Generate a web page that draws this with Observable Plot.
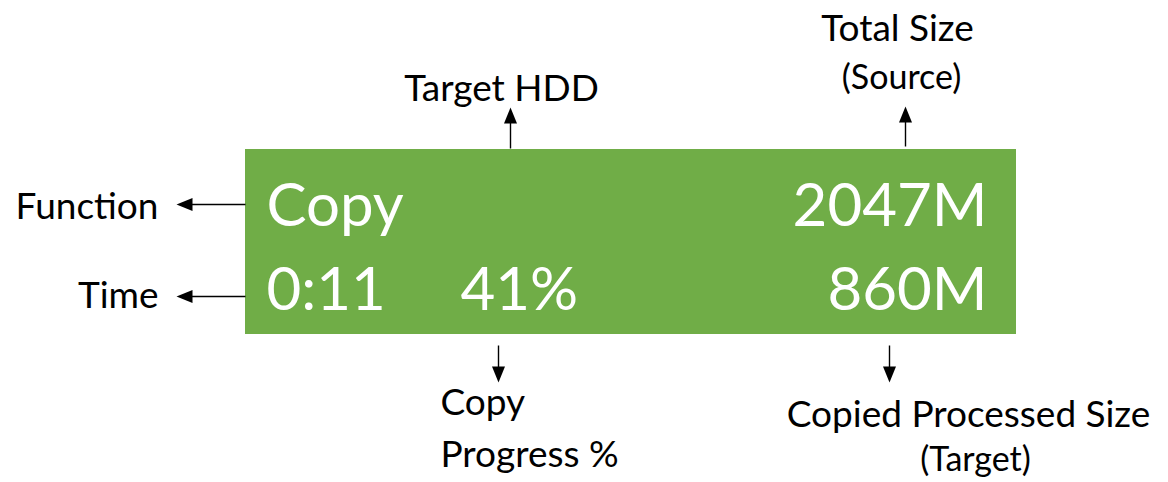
<!DOCTYPE html>
<html>
<head>
<meta charset="utf-8">
<script src="https://cdn.jsdelivr.net/npm/d3@7"></script>
<script src="https://cdn.jsdelivr.net/npm/@observablehq/plot@0.6"></script>
<style>
  html, body { margin: 0; padding: 0; background: #ffffff; }
  #chart svg { display: block; }
</style>
</head>
<body>
<div id="chart"></div>
<script>
// ---- Data (text content of the diagram) ----
const fieldLabels = ["Function", "Time", "Target HDD", "Total Size", "Copy\nProgress %", "Copied Processed Size"];
const fieldNotes = ["(Source)", "(Target)"];
const displayValues = ["Copy", "2047M", "0:11", "41%", "860M"];

// ---- Layout (positions in pixel space of the 1168x482 canvas) ----
const W = 1168, H = 482;
const panel = {x1: 245, x2: 1016, y1: 149, y2: 334};
const labelLayout = [
  {x: 158, y: 218, anchor: "end"},
  {x: 158, y: 307, anchor: "end"},
  {x: 501, y: 100, anchor: "middle"},
  {x: 897, y: 40, anchor: "middle"},
  {x: 440, y: 466, anchor: "start"},
  {x: 968, y: 426, anchor: "middle"}
];
const noteLayout = [
  {x: 901, y: 88, anchor: "middle"},
  {x: 975, y: 470, anchor: "middle"}
];
const valueLayout = [
  {x: 266, y: 225, anchor: "start"},
  {x: 987, y: 225, anchor: "end"},
  {x: 266, y: 309, anchor: "start"},
  {x: 460, y: 309, anchor: "start"},
  {x: 987, y: 309, anchor: "end"}
];
// arrows: tail -> tip
const arrowLayout = [
  {x1: 245, y1: 204, x2: 176, y2: 204},
  {x1: 245, y1: 296, x2: 176, y2: 296},
  {x1: 510, y1: 148, x2: 510, y2: 107},
  {x1: 905, y1: 146, x2: 905, y2: 106},
  {x1: 498, y1: 345, x2: 498, y2: 382},
  {x1: 889, y1: 345, x2: 889, y2: 382}
];

const labels = fieldLabels.map((t, i) => ({text: t, ...labelLayout[i]}));
const notes = fieldNotes.map((t, i) => ({text: t, ...noteLayout[i]}));
const values = displayValues.map((t, i) => ({text: t, ...valueLayout[i]}));

const headLen = 16, headHalf = 6.5;
const arrows = arrowLayout.map(a => {
  const dx = a.x2 - a.x1, dy = a.y2 - a.y1;
  const len = Math.hypot(dx, dy);
  const ux = dx / len, uy = dy / len;
  const rot = Math.atan2(ux, -uy) * 180 / Math.PI;
  return {
    ...a,
    sx2: a.x2 - ux * (headLen - 2), sy2: a.y2 - uy * (headLen - 2),
    hx: a.x2 - ux * headLen / 2, hy: a.y2 - uy * headLen / 2,
    rot
  };
});

const arrowHead = {
  draw(context) {
    context.moveTo(0, -headLen / 2);
    context.lineTo(headHalf, headLen / 2);
    context.lineTo(-headHalf, headLen / 2);
    context.closePath();
  }
};

const font = "Lato, 'Open Sans', sans-serif";
const anchors = ["start", "middle", "end"];

function textMarks(data, opts) {
  return anchors.map(a => Plot.text(data.filter(d => d.anchor === a), {
    x: "x", y: "y", text: "text", textAnchor: a, lineAnchor: "bottom", ...opts
  }));
}

const chart = Plot.plot({
  width: W,
  height: H,
  margin: 0,
  style: {background: "#ffffff", fontFamily: font},
  x: {domain: [0, W], axis: null},
  y: {domain: [H, 0], axis: null},
  marks: [
    Plot.rect([panel], {x1: "x1", x2: "x2", y1: "y1", y2: "y2", fill: "#70AD47"}),
    Plot.link(arrows, {x1: "x1", y1: "y1", x2: "sx2", y2: "sy2", stroke: "#000", strokeWidth: 1.4}),
    Plot.dot(arrows, {x: "hx", y: "hy", symbol: arrowHead, rotate: "rot", fill: "#000", stroke: "none", r: 5}),
    ...textMarks(labels, {fontSize: 37, fill: "#000", lineHeight: 1.38}),
    ...textMarks(notes, {fontSize: 34, fill: "#000"}),
    ...textMarks(values, {fontSize: 60, fill: "#ffffff"})
  ]
});

document.getElementById("chart").append(chart);
</script>
</body>
</html>
